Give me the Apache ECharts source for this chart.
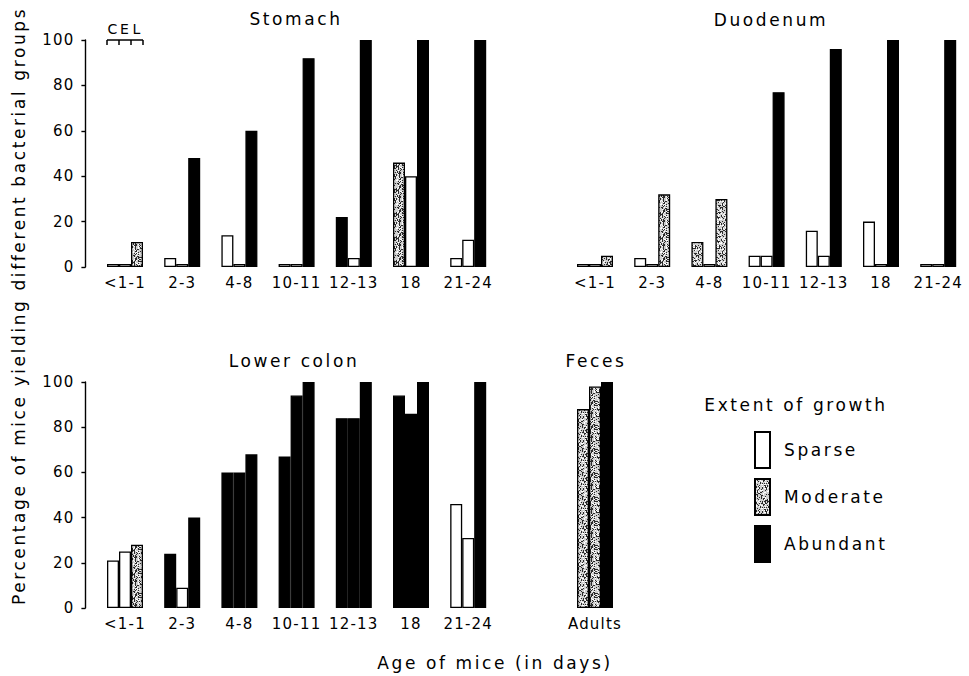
<!DOCTYPE html>
<html>
<head>
<meta charset="utf-8">
<script src="https://cdn.jsdelivr.net/npm/echarts@6/dist/echarts.min.js"></script>
<style>
html, body { margin: 0; padding: 0; background: #fff; }
#main { width: 969px; height: 676px; }
#main text { letter-spacing: 1.2px; }
#main text[style*="17px"] { letter-spacing: 2.6px; }
</style>
</head>
<body>
<div id="main"></div>
<script>
var ages = ['<1-1', '2-3', '4-8', '10-11', '12-13', '18', '21-24'];
var adultAges = ['Adults'];
var yMin = 0, yMax = 100, yStep = 20;
var extentNames = ['Sparse', 'Moderate', 'Abundant'];

// S = sparse, M = moderate, A = abundant
// stomach
var stomachC = [0, 4, 14, 0, 22, 46, 4];
var stomachCExt = ['S', 'S', 'S', 'S', 'A', 'M', 'S'];
var stomachE = [0, 0, 0, 0, 4, 40, 12];
var stomachEExt = ['S', 'S', 'S', 'S', 'S', 'S', 'S'];
var stomachL = [11, 48, 60, 92, 100, 100, 100];
var stomachLExt = ['M', 'A', 'A', 'A', 'A', 'A', 'A'];

// duodenum
var duodC = [0, 4, 11, 5, 16, 20, 0];
var duodCExt = ['S', 'S', 'M', 'S', 'S', 'S', 'S'];
var duodE = [0, 0, 0, 5, 5, 0, 0];
var duodEExt = ['S', 'S', 'S', 'S', 'S', 'S', 'S'];
var duodL = [5, 32, 30, 77, 96, 100, 100];
var duodLExt = ['M', 'M', 'M', 'A', 'A', 'A', 'A'];

// lower colon
var colonC = [21, 24, 60, 67, 84, 94, 46];
var colonCExt = ['S', 'A', 'A', 'A', 'A', 'A', 'S'];
var colonE = [25, 9, 60, 94, 84, 86, 31];
var colonEExt = ['S', 'S', 'A', 'A', 'A', 'A', 'S'];
var colonL = [28, 40, 68, 100, 100, 100, 100];
var colonLExt = ['M', 'A', 'A', 'A', 'A', 'A', 'A'];

// feces (adults)
var fecesC = [88];
var fecesCExt = ['M'];
var fecesE = [98];
var fecesEExt = ['M'];
var fecesL = [100];
var fecesLExt = ['A'];

var FONT = '"DejaVu Sans", sans-serif';

// speckled texture for "moderate" (fixed LCG so it is the same every run)
function makeStipple() {
	var n = 24;
	var c = document.createElement('canvas');
	c.width = n; c.height = n;
	var ctx = c.getContext('2d');
	ctx.fillStyle = '#cfcfcf';
	ctx.fillRect(0, 0, n, n);
	var s = 12345;
	for (var x = 0; x < n; x++) {
		for (var y = 0; y < n; y++) {
			s = (s * 1103515245 + 12345) % 2147483648;
			var h = s / 2147483648;
			if (h < 0.30) {
				ctx.fillStyle = '#2a2a2a';
				ctx.fillRect(x, y, 1, 1);
			} else if (h > 0.82) {
				ctx.fillStyle = '#ffffff';
				ctx.fillRect(x, y, 1, 1);
			}
		}
	}
	return c.toDataURL();
}
var stipple = { image : makeStipple(), repeat : 'repeat' };

var extStyle = {
	S : { color : '#fff', borderColor : '#000', borderWidth : 1.3 },
	M : { color : stipple, borderColor : '#000', borderWidth : 1.3 },
	A : { color : '#000', borderColor : '#000', borderWidth : 1.3 }
};

function makeSeries(name, idx, vals, exts) {
	return {
		name : name,
		type : 'bar',
		xAxisIndex : idx,
		yAxisIndex : idx,
		barWidth : 12,
		barGap : '0%',
		barMinHeight : 3,
		silent : true,
		data : vals.map(function(v, i) {
			return { value : v, itemStyle : extStyle[exts[i]] };
		})
	};
}

var grids = [
	{ left : 96.4, top : 40, width : 400.4, height : 227 },   // stomach
	{ left : 566.4, top : 40, width : 400.4, height : 227 },  // duodenum
	{ left : 96.4, top : 382, width : 400.4, height : 226 },  // lower colon
	{ left : 566.4, top : 382, width : 57.2, height : 226 },  // feces
	{ left : 0, top : 0, width : 1, height : 1 }              // legend holder
];

function xAx(idx, cats) {
	return {
		gridIndex : idx,
		type : 'category',
		data : cats,
		axisLine : { show : false },
		axisTick : { show : false },
		axisLabel : { color : '#000', fontSize : 15, fontFamily : FONT, margin : 8, interval : 0 }
	};
}
function yAx(idx, show) {
	return {
		gridIndex : idx,
		type : 'value',
		min : yMin,
		max : yMax,
		interval : yStep,
		show : show,
		offset : 11,
		splitLine : { show : false },
		axisLine : { show : true, lineStyle : { color : '#000', width : 1.4 } },
		axisTick : { show : true, length : 4, lineStyle : { color : '#000', width : 1.4 } },
		axisLabel : { color : '#000', fontSize : 15, fontFamily : FONT, margin : 11 }
	};
}

var series = [
	makeSeries('C', 0, stomachC, stomachCExt),
	makeSeries('E', 0, stomachE, stomachEExt),
	makeSeries('L', 0, stomachL, stomachLExt),
	makeSeries('C', 1, duodC, duodCExt),
	makeSeries('E', 1, duodE, duodEExt),
	makeSeries('L', 1, duodL, duodLExt),
	makeSeries('C', 2, colonC, colonCExt),
	makeSeries('E', 2, colonE, colonEExt),
	makeSeries('L', 2, colonL, colonLExt),
	makeSeries('C', 3, fecesC, fecesCExt),
	makeSeries('E', 3, fecesE, fecesEExt),
	makeSeries('L', 3, fecesL, fecesLExt)
];
// legend-only series
['S', 'M', 'A'].forEach(function(k, i) {
	series.push({
		name : extentNames[i],
		type : 'bar',
		xAxisIndex : 4,
		yAxisIndex : 4,
		itemStyle : extStyle[k],
		data : []
	});
});

var chart = echarts.init(document.getElementById('main'), null, { renderer : 'svg' });

var option = {
	animation : false,
	backgroundColor : '#fff',
	grid : grids,
	xAxis : [ xAx(0, ages), xAx(1, ages), xAx(2, ages), xAx(3, adultAges),
		{ gridIndex : 4, type : 'category', data : ['x'], show : false } ],
	yAxis : [ yAx(0, true), yAx(1, false), yAx(2, true), yAx(3, false),
		{ gridIndex : 4, type : 'value', show : false } ],
	legend : {
		data : extentNames,
		orient : 'vertical',
		left : 749,
		top : 426,
		icon : 'rect',
		itemWidth : 15,
		itemHeight : 36,
		itemGap : 9,
		selectedMode : false,
		textStyle : { color : '#000', fontSize : 17, fontFamily : FONT, padding : [0, 0, 0, 9] }
	},
	series : series
};
chart.setOption(option);

// text and CEL bracket
function txt(t, x, y, size, rot) {
	return {
		type : 'text',
		x : x,
		y : y,
		rotation : rot || 0,
		silent : true,
		style : {
			text : t,
			fill : '#000',
			fontSize : size,
			fontFamily : FONT,
			align : 'center',
			verticalAlign : 'middle',
			textAlign : 'center',
			textVerticalAlign : 'middle'
		}
	};
}

var xc = chart.convertToPixel({ xAxisIndex : 0 }, ages[0]);
var y100 = chart.convertToPixel({ yAxisIndex : 0 }, yMax);
var bw = 12;
var bracket = [];
bracket.push({ type : 'line', silent : true, shape : { x1 : xc - 1.5 * bw, y1 : y100, x2 : xc + 1.5 * bw, y2 : y100 },
	style : { stroke : '#000', lineWidth : 1.5 } });
[-1.5, -0.5, 0.5, 1.5].forEach(function(k) {
	bracket.push({ type : 'line', silent : true, shape : { x1 : xc + k * bw, y1 : y100, x2 : xc + k * bw, y2 : y100 + 5 },
		style : { stroke : '#000', lineWidth : 1.5 } });
});

var graphics = [
	txt('Stomach', 296, 19, 17),
	txt('Duodenum', 771, 20, 17),
	txt('Lower colon', 294, 361, 17),
	txt('Feces', 596, 361, 17),
	txt('Extent of growth', 796, 405, 17),
	txt('Age of mice (in days)', 495, 663, 17),
	txt('Percentage of mice yielding different bacterial groups', 19, 306, 17, Math.PI / 2),
	txt('C', xc - bw, y100 - 11, 14),
	txt('E', xc, y100 - 11, 14),
	txt('L', xc + bw, y100 - 11, 14)
].concat(bracket);

chart.setOption({ graphic : graphics });
</script>
</body>
</html>
